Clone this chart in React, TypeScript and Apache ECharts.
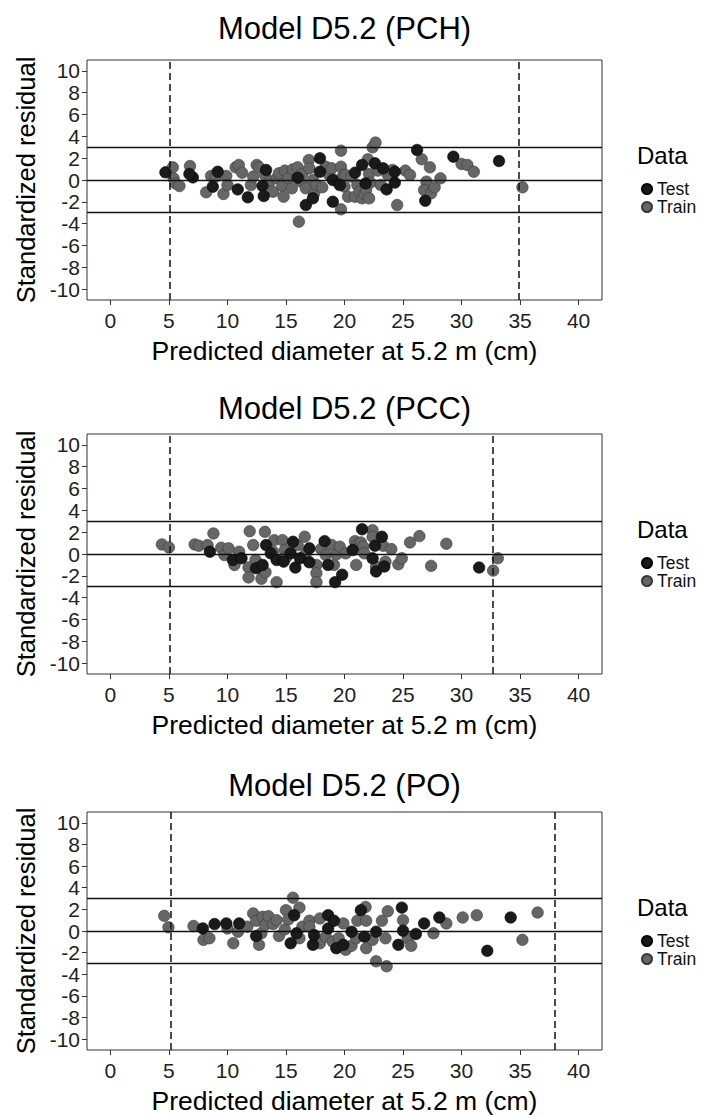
import React, { useEffect, useRef } from "react";
import * as echarts from "echarts";

// ---------- data ----------
const xTicks = [0, 5, 10, 15, 20, 25, 30, 35, 40];
const yTicks = [-10, -8, -6, -4, -2, 0, 2, 4, 6, 8, 10];
const refLines = [-3, 0, 3];
const titles = ["Model D5.2 (PCH)", "Model D5.2 (PCC)", "Model D5.2 (PO)"];
const legendNames = ["Test", "Train"];

const pchBounds = [5.04, 34.85];
const pccBounds = [5.04, 32.7];
const poBounds = [5.18, 37.95];

const pchTest = [
  [4.7, 0.7], [7.04, 0.24], [6.75, 0.55], [9.17, 0.76], [8.75, -0.61], [10.88, -0.86],
  [11.74, -1.59], [13.0, -0.55], [13.1, -1.47], [13.3, 0.92], [16.0, 0.21], [16.7, -2.29],
  [17.3, -1.68], [17.9, 1.99], [17.9, 0.76], [19.0, 0.0], [19.0, -1.99], [19.6, -0.46],
  [20.9, 0.67], [21.5, 1.38], [21.8, -0.31], [22.6, 1.53], [23.3, 1.07], [23.6, -0.86],
  [24.3, -0.24], [24.3, 0.76], [26.2, 2.75], [26.9, -1.9], [29.3, 2.14], [33.2, 1.74],
];
const pchTrain = [
  [5.33, 1.16], [5.4, 0.15], [5.56, -0.31], [5.9, -0.55], [6.8, 1.28], [8.18, -1.13],
  [8.6, 0.37], [9.0, 0.31], [9.66, -1.28], [9.9, 0.37], [10.0, -0.46], [10.7, 1.16],
  [10.97, 1.38], [11.25, 0.67], [12.0, -0.46], [12.2, 0.31], [12.5, 1.38], [12.7, 1.16],
  [13.2, 0.46], [13.6, -0.15], [13.9, -1.07], [14.2, 0.15], [14.4, 0.61], [14.7, -0.55],
  [14.8, -1.53], [14.9, 0.86], [15.2, 0.15], [15.5, -0.76], [15.6, 0.98], [16.0, 1.16],
  [16.1, -3.82], [16.3, -0.15], [16.4, 0.55], [16.7, -0.76], [16.95, 1.83], [17.0, 1.07],
  [17.3, 0.0], [17.4, -1.22], [17.6, -0.46], [18.1, -0.67], [18.4, 1.22], [18.7, 0.46],
  [18.9, 1.07], [19.3, -0.06], [19.7, 2.69], [19.7, 1.22], [19.7, -2.69], [19.9, 0.46],
  [20.0, -0.61], [20.1, 0.46], [20.3, -1.53], [20.6, 0.31], [20.9, -1.53], [21.1, -0.46],
  [21.3, -1.07], [21.5, -1.68], [21.7, -1.28], [21.85, -0.92], [22.0, 1.9], [22.1, 0.55],
  [22.1, -1.68], [22.2, -0.24], [22.4, 3.0], [22.65, 3.43], [22.85, 0.86], [23.1, -0.46],
  [23.7, 0.46], [24.1, 0.92], [24.5, -2.29], [25.2, 0.86], [25.6, 0.46], [26.6, 1.9],
  [27.0, -0.15], [26.8, -0.92], [27.3, 1.16], [27.4, -1.22], [27.7, -0.67], [28.2, 0.15],
  [30.0, 1.47], [30.5, 1.38], [31.05, 0.76], [35.2, -0.67],
];

const pccTest = [
  [8.5, 0.21], [10.46, -0.55], [11.2, -0.39], [12.45, -1.3], [13.0, -1.0], [13.3, 0.82],
  [13.7, 0.06], [14.2, -0.55], [14.8, -0.7], [15.4, 0.06], [15.6, 1.12], [15.8, -1.24],
  [16.2, -0.39], [17.0, 0.52], [17.0, -0.76], [18.3, 1.18], [18.6, -1.0], [19.2, -2.58],
  [19.8, -1.9], [20.7, 0.36], [21.5, 2.27], [22.4, -0.39], [22.6, 0.76], [22.7, -1.6],
  [23.2, 1.58], [23.4, -1.15], [31.5, -1.24],
];
const pccTrain = [
  [4.4, 0.88], [5.0, 0.6], [7.2, 0.88], [7.55, 0.76], [8.3, 0.82], [8.8, 1.88],
  [9.46, 0.58], [9.74, -0.09], [10.1, 0.52], [10.6, -1.0], [11.0, 0.21], [11.8, -1.24],
  [11.8, -2.15], [11.9, 2.09], [12.2, 0.82], [12.4, -0.55], [12.9, -2.27], [13.2, 2.03],
  [13.25, -1.67], [13.9, 0.21], [14.0, 1.27], [14.2, -2.58], [14.7, 1.27], [14.9, 0.36],
  [15.0, -0.33], [16.0, 0.82], [16.6, 1.58], [16.7, 0.06], [17.6, -1.0], [17.6, -1.76],
  [17.6, -2.58], [18.0, 0.45], [18.4, -0.09], [18.9, 0.82], [19.1, -1.0], [19.3, -0.03],
  [19.6, 0.67], [20.1, 0.06], [20.9, 1.18], [21.0, -1.0], [21.1, 0.88], [21.4, 1.06],
  [21.6, 0.67], [21.7, 0.06], [22.4, 2.18], [22.4, 1.58], [22.7, -1.15], [23.3, 0.76],
  [23.5, -0.7], [24.0, 0.45], [24.6, -0.94], [24.9, -0.39], [25.6, 1.06], [26.4, 1.64],
  [27.4, -1.09], [28.7, 0.94], [32.7, -1.52], [33.1, -0.39],
];

const poTest = [
  [7.9, 0.24], [8.9, 0.64], [9.9, 0.7], [11.0, 0.7], [12.45, -0.46], [15.4, -1.13],
  [15.7, 1.46], [15.9, -0.21], [17.3, -1.28], [17.4, -0.37], [18.6, 1.46], [18.6, 0.24],
  [19.1, 0.95], [19.3, -1.59], [19.9, -1.28], [20.6, -0.06], [21.4, 1.92], [21.7, -0.52],
  [22.7, -0.06], [24.6, -1.28], [24.9, 2.16], [25.0, 0.03], [26.1, -0.27], [26.8, 0.7],
  [28.1, 1.25], [32.2, -1.83], [34.2, 1.25],
];
const poTrain = [
  [4.6, 1.4], [4.96, 0.34], [7.1, 0.46], [7.95, -0.82], [8.46, -0.67], [10.0, 0.24],
  [10.5, -1.13], [10.9, -0.06], [11.7, 0.4], [12.2, 1.62], [12.45, 0.95], [12.7, -1.28],
  [12.9, -0.21], [13.0, 1.31], [13.2, 0.55], [13.5, 1.37], [13.9, 0.64], [14.2, 1.0],
  [14.4, -0.46], [14.9, 0.15], [15.0, 1.92], [15.2, 1.07], [15.6, 3.08], [16.15, 2.16],
  [16.15, -0.67], [16.4, 0.4], [17.0, 0.95], [17.0, 0.4], [17.9, 1.16], [17.9, -1.13],
  [18.4, -0.52], [19.0, -0.98], [19.5, -0.67], [19.9, 0.7], [20.1, -1.74], [20.6, -1.37],
  [21.0, -0.67], [21.1, 0.95], [21.8, 2.22], [21.85, 0.95], [21.85, -1.59], [22.4, -0.82],
  [22.7, -2.8], [23.2, 0.95], [23.5, -0.67], [23.7, 1.83], [23.6, -3.26], [25.0, 1.0],
  [25.4, -0.67], [25.7, -1.37], [27.6, -0.21], [28.7, 0.7], [30.1, 1.25], [31.3, 1.46],
  [35.2, -0.82], [36.5, 1.71],
];

const testSets = [pchTest, pccTest, poTest];
const trainSets = [pchTrain, pccTrain, poTrain];
const boundSets = [pchBounds, pccBounds, poBounds];

// ---------- layout ----------
const FONT = "'Liberation Sans', Arial, Helvetica, sans-serif";
const GRID_LEFT = 87;
const GRID_W = 515;
const GRID_H = 240;
const panelTops = [60, 434, 812];
const titleYs = [28, 408, 785];

export default function App() {
  const ref = useRef<HTMLDivElement>(null);

  useEffect(() => {
    document.body.style.margin = "0";
    if (!ref.current) return;
    const chart = echarts.init(ref.current, undefined, { renderer: "svg" });

    const grid: any[] = [];
    const xAxis: any[] = [];
    const yAxis: any[] = [];
    const series: any[] = [];
    const legend: any[] = [];
    const graphic: any[] = [];

    panelTops.forEach((top, i) => {
      grid.push({
        left: GRID_LEFT,
        top,
        width: GRID_W,
        height: GRID_H,
        show: true,
        borderColor: "#333",
        borderWidth: 1,
        backgroundColor: "#fff",
      });
      xAxis.push({
        type: "value",
        gridIndex: i,
        min: -2,
        max: 42,
        splitLine: { show: false },
        axisLine: { show: false, onZero: false },
        axisTick: {
          show: true,
          length: 5,
          lineStyle: { color: "#333", width: 1 },
          customValues: xTicks,
        },
        axisLabel: {
          color: "#222",
          fontSize: 21,
          fontFamily: FONT,
          margin: 10,
          customValues: xTicks,
        },
        name: "Predicted diameter at 5.2 m (cm)",
        nameLocation: "middle",
        nameGap: 37,
        nameTextStyle: { color: "#000", fontSize: 26.5, fontFamily: FONT },
      });
      yAxis.push({
        type: "value",
        gridIndex: i,
        min: -11,
        max: 11,
        splitLine: { show: false },
        axisLine: { show: false, onZero: false },
        axisTick: {
          show: true,
          length: 5,
          lineStyle: { color: "#333", width: 1 },
          customValues: yTicks,
        },
        axisLabel: {
          color: "#222",
          fontSize: 21,
          fontFamily: FONT,
          margin: 7,
          customValues: yTicks,
        },
        name: "Standardized residual",
        nameLocation: "middle",
        nameGap: 45,
        nameTextStyle: { color: "#000", fontSize: 25.5, fontFamily: FONT },
      });

      series.push({
        type: "scatter",
        name: "Train",
        xAxisIndex: i,
        yAxisIndex: i,
        data: trainSets[i],
        symbolSize: 11.5,
        itemStyle: { color: "#666666", borderColor: "#3a3a3a", borderWidth: 0.6, opacity: 1 },
        z: 2,
      });
      series.push({
        type: "scatter",
        name: "Test",
        xAxisIndex: i,
        yAxisIndex: i,
        data: testSets[i],
        symbolSize: 11.5,
        itemStyle: { color: "#1a1a1a", borderColor: "#000", borderWidth: 0.6, opacity: 1 },
        z: 3,
        markLine: {
          silent: true,
          symbol: "none",
          label: { show: false },
          animation: false,
          data: [
            ...refLines.map((v) => ({
              yAxis: v,
              lineStyle: { color: "#111", width: 1.4, type: "solid" },
            })),
            ...boundSets[i].map((v) => ({
              xAxis: v,
              lineStyle: { color: "#111", width: 1.5, type: [7, 4] },
            })),
          ],
        },
      });

      legend.push({
        data: legendNames,
        orient: "vertical",
        left: 641,
        top: top + 120,
        padding: 0,
        icon: "circle",
        itemWidth: 10,
        itemHeight: 10,
        itemGap: 0,
        itemTextGap: 6,
        selectedMode: false,
        textStyle: { fontSize: 17.5, color: "#111", fontFamily: FONT },
      });

      graphic.push({
        type: "text",
        x: GRID_LEFT + GRID_W / 2,
        y: titleYs[i],
        style: {
          text: titles[i],
          font: `31px ${FONT}`,
          fill: "#000",
          textAlign: "center",
          textVerticalAlign: "middle",
        },
      });
      graphic.push({
        type: "text",
        x: 637,
        y: top + 95,
        style: {
          text: "Data",
          font: `24px ${FONT}`,
          fill: "#000",
          textAlign: "left",
          textVerticalAlign: "middle",
        },
      });
    });

    chart.setOption({
      animation: false,
      backgroundColor: "#fff",
      grid,
      xAxis,
      yAxis,
      series,
      legend,
      graphic,
    });

    return () => chart.dispose();
  }, []);

  return <div ref={ref} style={{ width: 722, height: 1115 }} />;
}
